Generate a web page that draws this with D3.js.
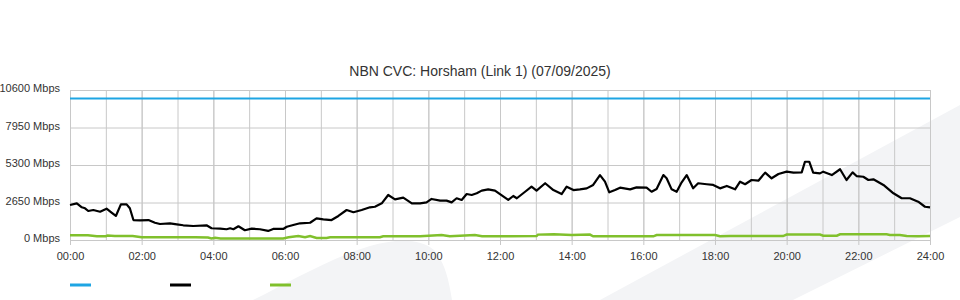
<!DOCTYPE html>
<html>
<head>
<meta charset="utf-8">
<script src="https://cdn.jsdelivr.net/npm/d3@7"></script>
<style>
    body { margin: 0; background: #fff; }
    svg { display: block; font-family: "Liberation Sans", Arial, sans-serif; }
    .tick text { fill: #333; font-size: 11px; }
    .grid line { stroke: #c8c8c8; stroke-width: 1px; }
    .domain { display: none; }
</style>
</head>
<body>
<div id="chart-area"></div>
<script>
var width = 960;
var height = 300;
var title = "NBN CVC: Horsham (Link 1) (07/09/2025)";

// y ticks (Mbps)
var yTicks = [0, 2650, 5300, 7950, 10600];
var capacity = 10000;

// traffic (hours since midnight, Mbps)
var blackTimes = [0.00, 0.19, 0.33, 0.42, 0.51, 0.65, 0.84, 1.02, 1.16, 1.28, 1.42, 1.58, 1.67, 1.77, 1.95,
    2.19, 2.37, 2.51, 2.79, 2.98, 3.16, 3.44, 3.81, 3.95, 4.19, 4.37, 4.47, 4.56, 4.70, 4.88,
    5.07, 5.30, 5.53, 5.67, 5.95, 6.05, 6.23, 6.42, 6.70, 6.88, 7.07, 7.30, 7.49, 7.72, 7.91,
    8.14, 8.37, 8.51, 8.70, 8.88, 9.07, 9.30, 9.54, 9.77, 9.95, 10.09, 10.33, 10.51, 10.65, 10.79,
    10.93, 11.07, 11.21, 11.35, 11.49, 11.67, 11.86, 12.05, 12.23, 12.37, 12.47, 12.70, 12.88, 13.02, 13.26,
    13.49, 13.72, 13.86, 14.05, 14.23, 14.42, 14.60, 14.79, 14.93, 15.05, 15.21, 15.35, 15.63, 15.81, 16.09,
    16.23, 16.37, 16.56, 16.65, 16.79, 16.93, 17.07, 17.21, 17.39, 17.53, 17.77, 17.95, 18.14, 18.33, 18.56,
    18.70, 18.84, 19.02, 19.21, 19.40, 19.58, 19.77, 20.00, 20.19, 20.42, 20.51, 20.63, 20.74, 20.93, 21.02,
    21.26, 21.49, 21.67, 21.84, 21.95, 22.14, 22.28, 22.42, 22.70, 22.98, 23.21, 23.44, 23.67, 23.86, 24.00];
var blackValues = [2470, 2590, 2310, 2240, 2050, 2120, 2000, 2210, 1930, 1700, 2520, 2520, 2240, 1410, 1390,
    1410, 1220, 1130, 1180, 1110, 1040, 990, 1040, 830, 800, 760, 830, 760, 970, 690,
    800, 760, 640, 780, 780, 940, 1060, 1180, 1220, 1530, 1460, 1410, 1700, 2120, 1960,
    2120, 2310, 2350, 2590, 3180, 2870, 2990, 2590, 2590, 2660, 2900, 2780, 2780, 2660, 2950,
    2830, 3250, 3180, 3300, 3490, 3580, 3490, 3150, 2830, 3110, 2950, 3410, 3770, 3490, 4010,
    3530, 3250, 3770, 3530, 3580, 3650, 3890, 4590, 4120, 3370, 3530, 3700, 3580, 3720, 3700,
    3410, 3600, 4590, 4360, 3580, 3410, 4080, 4590, 3650, 4010, 3940, 3890, 3650, 3820, 3580,
    4120, 3940, 4240, 4190, 4760, 4360, 4660, 4830, 4760, 4780, 5530, 5530, 4760, 4710, 4830,
    4590, 5000, 4240, 4780, 4520, 4470, 4240, 4290, 3890, 3300, 2950, 2950, 2710, 2350, 2310];

var greenTimes = [0.00, 0.50, 0.75, 1.00, 1.05, 1.25, 1.75, 2.00, 2.50, 3.00, 3.50, 3.85, 3.95, 4.05, 4.20,
    4.50, 5.00, 5.50, 5.95, 6.10, 6.37, 6.56, 6.70, 6.88, 7.16, 7.26, 8.00, 8.65, 8.74, 9.58,
    9.77, 10.37, 10.60, 11.30, 11.50, 12.28, 13.02, 13.06, 13.50, 14.00, 14.51, 14.60, 15.50, 16.28, 16.37,
    17.00, 18.00, 18.14, 18.42, 19.00, 19.90, 20.00, 20.93, 21.02, 21.40, 21.49, 22.00, 22.79, 22.88, 23.16,
    23.35, 23.70, 24.00];
var greenValues = [330, 330, 260, 270, 320, 280, 280, 200, 190, 190, 190, 180, 110, 150, 100,
    100, 100, 100, 110, 190, 280, 190, 280, 140, 140, 190, 190, 190, 260, 260,
    270, 350, 270, 350, 270, 270, 280, 380, 400, 360, 380, 260, 260, 260, 350,
    350, 350, 260, 280, 280, 280, 380, 380, 300, 300, 400, 400, 400, 350, 350,
    280, 260, 280];

var svg = d3.select("#chart-area").append("svg")
    .attr("width", width)
    .attr("height", height);

// light watermark shapes behind the plot
svg.append("path")
    .attr("d", "M600,300 L960,105 L960,217 L793,300 Z")
    .attr("fill", "#f3f4f6");

svg.append("path")
    .attr("d", "M253,300 C290,282 330,258 370,246 C395,239 420,238 434,250 C444,262 448,275 452,300 Z")
    .attr("fill", "#f3f4f6");

var x = d3.scaleLinear()
    .domain([0, 24])
    .range([70, 930]);

var y = d3.scaleLinear()
    .domain([0, 10600])
    .range([240, 90]);

// hourly grid lines
svg.append("g")
    .attr("class", "grid")
    .attr("transform", "translate(0,90)")
    .call(d3.axisBottom(x)
        .tickValues(d3.range(0, 25, 1))
        .tickSize(150)
        .tickFormat(""));

// 2-hourly ticks with labels
svg.append("g")
    .attr("class", "grid")
    .attr("transform", "translate(0,90)")
    .call(d3.axisBottom(x)
        .tickValues(d3.range(0, 25, 2))
        .tickSize(155)
        .tickPadding(7)
        .tickFormat(function(d) {
            return (d < 10 ? "0" : "") + d + ":00";
        }));

svg.append("g")
    .attr("class", "grid")
    .attr("transform", "translate(70,0)")
    .call(d3.axisLeft(y)
        .tickValues(yTicks)
        .tickSize(-860)
        .tickPadding(10)
        .tickFormat(function(d) {
            return d + " Mbps";
        }))
    .selectAll("text")
    .attr("y", -2);

var line = d3.line()
    .x(function(d) { return x(d[0]); })
    .y(function(d) { return y(d[1]); });

svg.append("path")
    .datum([[0, capacity], [24, capacity]])
    .attr("d", line)
    .attr("fill", "none")
    .attr("stroke", "#1ea5e3")
    .attr("stroke-width", 2);

svg.append("path")
    .datum(greenTimes.map(function(t, i) { return [t, greenValues[i]]; }))
    .attr("d", line)
    .attr("fill", "none")
    .attr("stroke", "#80c02c")
    .attr("stroke-width", 2.5);

svg.append("path")
    .datum(blackTimes.map(function(t, i) { return [t, blackValues[i]]; }))
    .attr("d", line)
    .attr("fill", "none")
    .attr("stroke", "#000")
    .attr("stroke-width", 2.2)
    .attr("stroke-linejoin", "round");

svg.append("text")
    .text(title)
    .attr("x", 480)
    .attr("y", 76)
    .attr("text-anchor", "middle")
    .attr("fill", "#333")
    .style("font-size", "14px");

// legend swatches (no labels)
var legendColors = ["#1ea5e3", "#000", "#80c02c"];
svg.selectAll(".legend")
    .data(legendColors)
    .enter()
    .append("line")
    .attr("class", "legend")
    .attr("x1", function(d, i) { return 70 + i * 100; })
    .attr("x2", function(d, i) { return 91 + i * 100; })
    .attr("y1", 285)
    .attr("y2", 285)
    .attr("stroke", function(d) { return d; })
    .attr("stroke-width", 3);
</script>
</body>
</html>
